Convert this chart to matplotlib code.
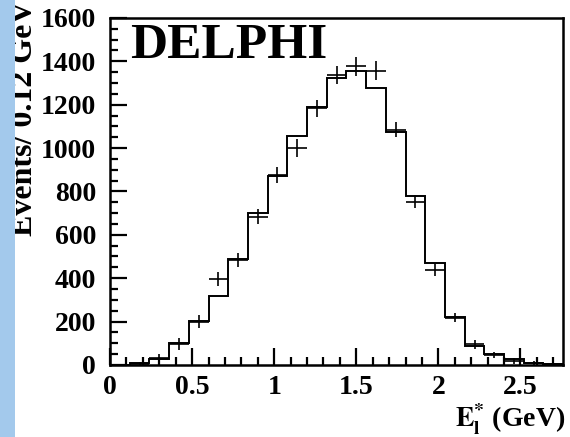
import numpy as np
import matplotlib
matplotlib.use('Agg')
import matplotlib.pyplot as plt
from matplotlib.ticker import MultipleLocator
from matplotlib.patches import Rectangle

# bin edges (0.12 GeV bins) and contents
edges = [0.00, 0.12, 0.24, 0.36, 0.48, 0.60, 0.72, 0.84, 0.96, 1.08, 1.20, 1.32,
         1.44, 1.56, 1.68, 1.80, 1.92, 2.04, 2.16, 2.28, 2.40, 2.52, 2.64, 2.76]
centers = [0.06, 0.18, 0.30, 0.42, 0.54, 0.66, 0.78, 0.90, 1.02, 1.14, 1.26, 1.38,
           1.50, 1.62, 1.74, 1.86, 1.98, 2.10, 2.22, 2.34, 2.46, 2.58, 2.70]
simulation = [0, 8, 26, 100, 203, 318, 489, 702, 869, 1056, 1191, 1325,
              1353, 1279, 1076, 781, 469, 223, 89, 49, 28, 11, 3]
data = [0, 5, 30, 95, 198, 395, 484, 684, 876, 1000, 1184, 1337,
        1376, 1357, 1084, 753, 438, 218, 95, 45, 18, 8, 3]
data_err = [0, 10, 20, 27, 30, 33, 33, 35, 35, 40, 39, 40,
            43, 43, 35, 30, 28, 22, 20, 15, 12, 10, 8]

plt.rcParams['font.family'] = ['Liberation Serif', 'DejaVu Serif']
plt.rcParams['font.weight'] = 'bold'
plt.rcParams['mathtext.fontset'] = 'stix'

fig = plt.figure(figsize=(5.7, 4.37), dpi=100)
ax = fig.add_axes([0.193, 0.165, 0.795, 0.794])

ax.stairs(simulation, edges, color='black', linewidth=1.4, baseline=None)
ax.errorbar(centers[1:], data[1:], xerr=0.06, yerr=data_err[1:], fmt='none',
            ecolor='black', elinewidth=1.2, capsize=0)

ax.set_xlim(0, 2.76)
ax.set_ylim(0, 1600)
ax.xaxis.set_major_locator(MultipleLocator(0.5))
ax.xaxis.set_minor_locator(MultipleLocator(0.1))
ax.yaxis.set_major_locator(MultipleLocator(200))
ax.yaxis.set_minor_locator(MultipleLocator(50))
ax.set_xticks([0, 0.5, 1, 1.5, 2, 2.5])
ax.set_xticklabels(['0', '0.5', '1', '1.5', '2', '2.5'])
ax.tick_params(which='both', direction='in', width=1.6, labelsize=20)
ax.tick_params(which='major', length=12)
ax.tick_params(which='minor', length=6)
ax.tick_params(axis='y', which='major', pad=10)
ax.tick_params(axis='x', which='major', pad=7)
for s in ax.spines.values():
    s.set_linewidth(1.8)

ax.text(0.045, 0.985, 'DELPHI', transform=ax.transAxes, fontsize=37,
        fontweight='bold', ha='left', va='top')

fig.text(0.043, 0.998, 'Events/ 0.12 GeV', rotation=90, fontsize=23,
         fontweight='bold', ha='center', va='top')
fig.text(0.992, 0.0, r'$\mathbf{E}_{\mathbf{l}}^{\mathbf{*}}$ (GeV)', fontsize=20,
         fontweight='bold', ha='right', va='bottom')

# light blue strip at the left edge
fig.patches.append(Rectangle((0, 0), 15 / 570, 1, transform=fig.transFigure,
                             facecolor='#a3c9ec', edgecolor='none', zorder=5))

fig.savefig('out.png', dpi=100)
